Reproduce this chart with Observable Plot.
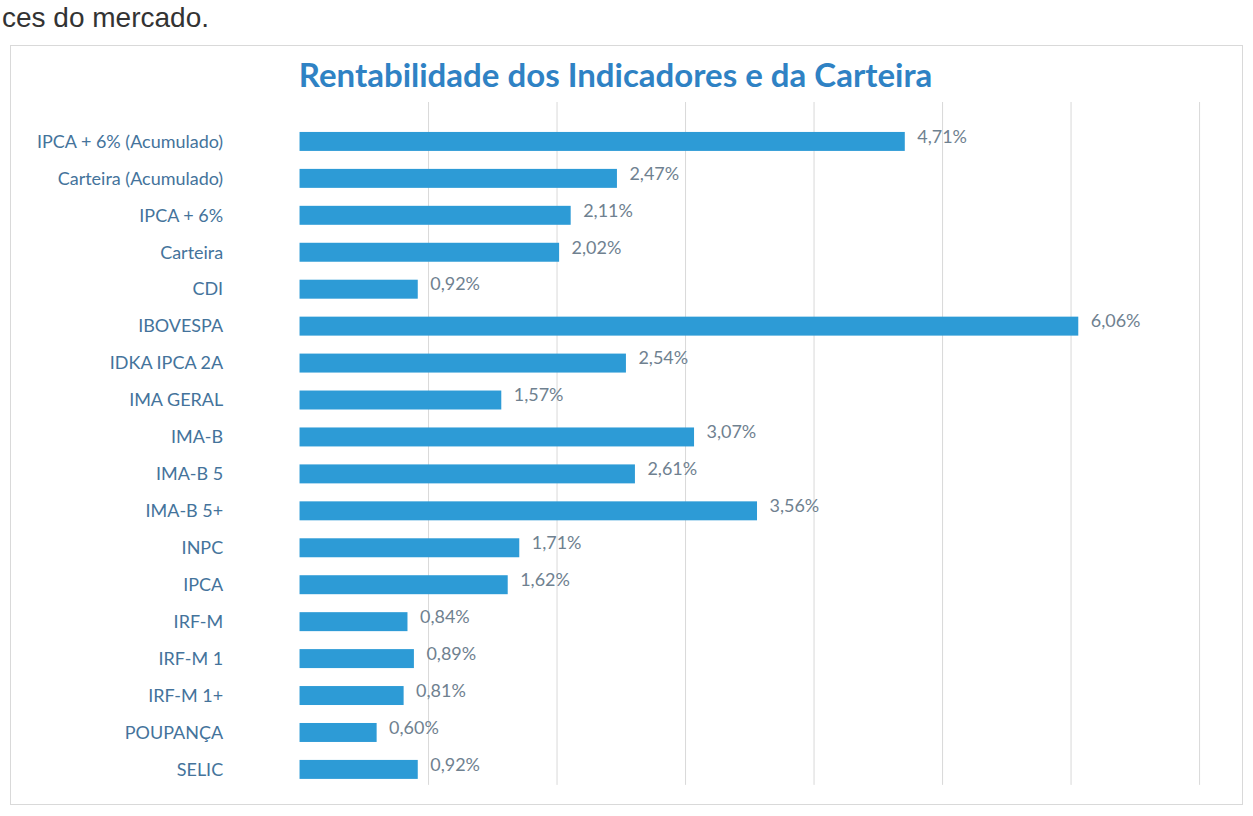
<!DOCTYPE html>
<html>
<head>
<meta charset="utf-8">
<script src="https://cdn.jsdelivr.net/npm/d3@7"></script>
<script src="https://cdn.jsdelivr.net/npm/@observablehq/plot@0.6"></script>
<style>
  html, body { margin: 0; padding: 0; background: #ffffff; width: 1253px; height: 816px; overflow: hidden; }
  #header { position: absolute; left: 2px; top: 2px; font-family: "Liberation Sans", Arial, sans-serif; font-size: 28px; line-height: 32px; color: #333; }
  #frame { position: absolute; left: 10px; top: 45px; width: 1233px; height: 760px; border: 1px solid #d9d9d9; box-sizing: border-box; }
  #title { position: absolute; left: -12px; top: 8px; width: 1233px; text-align: center; font-family: Lato, "Open Sans", sans-serif; font-weight: bold; font-size: 33px; color: #2f82c4; }
  #chart { position: absolute; left: 0; top: 55px; }
</style>
</head>
<body>
<div id="header">ces do mercado.</div>
<div id="frame">
  <div id="title">Rentabilidade dos Indicadores e da Carteira</div>
  <div id="chart"></div>
</div>
<script>
const categories = [
  "IPCA + 6% (Acumulado)", "Carteira (Acumulado)", "IPCA + 6%", "Carteira", "CDI",
  "IBOVESPA", "IDKA IPCA 2A", "IMA GERAL", "IMA-B", "IMA-B 5", "IMA-B 5+",
  "INPC", "IPCA", "IRF-M", "IRF-M 1", "IRF-M 1+", "POUPANÇA", "SELIC"
];
const values = [4.71, 2.47, 2.11, 2.02, 0.92, 6.06, 2.54, 1.57, 3.07, 2.61, 3.56, 1.71, 1.62, 0.84, 0.89, 0.81, 0.60, 0.92];
const gridTicks = [1, 2, 3, 4, 5, 6, 7];

const data = categories.map((c, i) => ({ name: c, value: values[i] }));
const fmt = v => v.toFixed(2).replace(".", ",") + "%";

const chart = Plot.plot({
  width: 1233,
  height: 720,
  marginLeft: 289,
  marginRight: 43,
  marginTop: 5,
  marginBottom: 15,
  style: { fontFamily: "Lato, 'Open Sans', sans-serif", background: "transparent", overflow: "visible" },
  x: { domain: [0, 7], axis: null },
  y: { domain: categories, padding: 0.5, label: null },
  marks: [
    Plot.ruleX(gridTicks, { stroke: "#d9d9d9", strokeWidth: 1, insetTop: -4, insetBottom: 20 }),
    Plot.barX(data, { x: "value", y: "name", fill: "#2d9bd6" }),
    Plot.text(data, { x: "value", y: "name", text: d => fmt(d.value), textAnchor: "start", dx: 12, dy: -5, fill: "#6f8190", fontSize: 18 }),
    Plot.axisY({ tickSize: 0, tickPadding: 77, fontSize: 18, color: "#44739b", label: null })
  ]
});
document.getElementById("chart").appendChild(chart);
</script>
</body>
</html>
